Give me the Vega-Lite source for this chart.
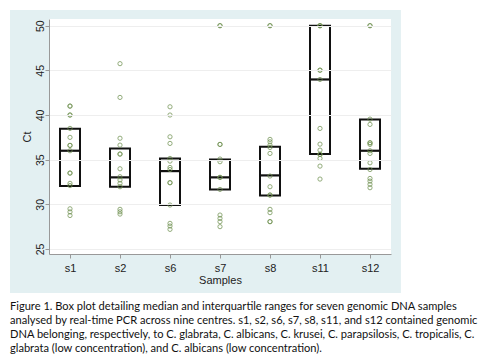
{
  "$schema": "https://vega.github.io/schema/vega-lite/v6.json",
  "width": 342,
  "height": 235,
  "autosize": "none",
  "padding": {"left": 49, "top": 19, "right": 97, "bottom": 107},
  "background": "white",
  "config": {
    "view": {"stroke": null},
    "font": "Liberation Sans"
  },
  "title": {
    "text": [
      "Figure 1. Box plot detailing median and interquartile ranges for seven genomic DNA samples",
      "analysed by real-time PCR across nine centres. s1, s2, s6, s7, s8, s11, and s12 contained genomic",
      "DNA belonging, respectively, to C. glabrata, C. albicans, C. krusei, C. parapsilosis, C. tropicalis, C.",
      "glabrata (low concentration), and C. albicans (low concentration)."
    ],
    "orient": "bottom",
    "anchor": "start",
    "frame": "group",
    "dx": -39,
    "offset": 8,
    "font": "Lato",
    "fontSize": 11.1,
    "fontWeight": "normal",
    "lineHeight": 14,
    "color": "#111"
  },
  "datasets": {
    "frame": [
      {"part": "panel", "x1": -0.114, "x2": 1.029, "y1": -0.166, "y2": 1.038},
      {"part": "plot", "x1": 0, "x2": 1, "y1": 0, "y2": 1}
    ],
    "points": [
      {"sample": "s1", "ct": 41.0}, {"sample": "s1", "ct": 41.0}, {"sample": "s1", "ct": 40.0}, {"sample": "s1", "ct": 40.0},
      {"sample": "s1", "ct": 38.5}, {"sample": "s1", "ct": 37.5}, {"sample": "s1", "ct": 36.6}, {"sample": "s1", "ct": 36.6},
      {"sample": "s1", "ct": 36.0}, {"sample": "s1", "ct": 33.5}, {"sample": "s1", "ct": 33.5}, {"sample": "s1", "ct": 32.35},
      {"sample": "s1", "ct": 32.1}, {"sample": "s1", "ct": 29.5}, {"sample": "s1", "ct": 29.15}, {"sample": "s1", "ct": 28.75},
      {"sample": "s2", "ct": 45.75}, {"sample": "s2", "ct": 41.97}, {"sample": "s2", "ct": 37.4}, {"sample": "s2", "ct": 36.63},
      {"sample": "s2", "ct": 35.63}, {"sample": "s2", "ct": 35.63}, {"sample": "s2", "ct": 33.98}, {"sample": "s2", "ct": 33.09},
      {"sample": "s2", "ct": 32.72}, {"sample": "s2", "ct": 32.35}, {"sample": "s2", "ct": 31.97}, {"sample": "s2", "ct": 29.44},
      {"sample": "s2", "ct": 29.17}, {"sample": "s2", "ct": 28.91},
      {"sample": "s6", "ct": 40.92}, {"sample": "s6", "ct": 40.0}, {"sample": "s6", "ct": 37.56}, {"sample": "s6", "ct": 36.82},
      {"sample": "s6", "ct": 35.14}, {"sample": "s6", "ct": 34.84}, {"sample": "s6", "ct": 34.13}, {"sample": "s6", "ct": 33.9},
      {"sample": "s6", "ct": 32.42}, {"sample": "s6", "ct": 32.42}, {"sample": "s6", "ct": 29.92}, {"sample": "s6", "ct": 27.87},
      {"sample": "s6", "ct": 27.57}, {"sample": "s6", "ct": 27.2},
      {"sample": "s7", "ct": 50.0}, {"sample": "s7", "ct": 50.0}, {"sample": "s7", "ct": 36.71}, {"sample": "s7", "ct": 36.71},
      {"sample": "s7", "ct": 35.07}, {"sample": "s7", "ct": 34.77}, {"sample": "s7", "ct": 33.02}, {"sample": "s7", "ct": 33.02},
      {"sample": "s7", "ct": 31.67}, {"sample": "s7", "ct": 28.8}, {"sample": "s7", "ct": 28.43}, {"sample": "s7", "ct": 28.06},
      {"sample": "s7", "ct": 27.5},
      {"sample": "s8", "ct": 50.0}, {"sample": "s8", "ct": 50.0}, {"sample": "s8", "ct": 37.27}, {"sample": "s8", "ct": 37.0},
      {"sample": "s8", "ct": 36.63}, {"sample": "s8", "ct": 36.37}, {"sample": "s8", "ct": 35.7}, {"sample": "s8", "ct": 33.17},
      {"sample": "s8", "ct": 31.97}, {"sample": "s8", "ct": 31.04}, {"sample": "s8", "ct": 31.04}, {"sample": "s8", "ct": 29.44},
      {"sample": "s8", "ct": 29.07}, {"sample": "s8", "ct": 28.06}, {"sample": "s8", "ct": 28.06},
      {"sample": "s11", "ct": 50.0}, {"sample": "s11", "ct": 50.0}, {"sample": "s11", "ct": 50.0}, {"sample": "s11", "ct": 45.02},
      {"sample": "s11", "ct": 45.02}, {"sample": "s11", "ct": 43.98}, {"sample": "s11", "ct": 38.5}, {"sample": "s11", "ct": 36.74},
      {"sample": "s11", "ct": 36.07}, {"sample": "s11", "ct": 35.59}, {"sample": "s11", "ct": 35.59}, {"sample": "s11", "ct": 35.14},
      {"sample": "s11", "ct": 34.28}, {"sample": "s11", "ct": 32.83},
      {"sample": "s12", "ct": 50.0}, {"sample": "s12", "ct": 50.0}, {"sample": "s12", "ct": 39.54}, {"sample": "s12", "ct": 38.95},
      {"sample": "s12", "ct": 36.89}, {"sample": "s12", "ct": 36.89}, {"sample": "s12", "ct": 36.71}, {"sample": "s12", "ct": 36.0},
      {"sample": "s12", "ct": 35.7}, {"sample": "s12", "ct": 34.65}, {"sample": "s12", "ct": 33.9}, {"sample": "s12", "ct": 32.9},
      {"sample": "s12", "ct": 32.6}, {"sample": "s12", "ct": 32.24}, {"sample": "s12", "ct": 31.86}
    ],
    "boxes": [
      {"sample": "s1", "q1": 32.05, "median": 36.0, "q3": 38.45},
      {"sample": "s2", "q1": 31.97, "median": 33.02, "q3": 36.26},
      {"sample": "s6", "q1": 29.92, "median": 33.72, "q3": 35.14},
      {"sample": "s7", "q1": 31.67, "median": 33.02, "q3": 35.03},
      {"sample": "s8", "q1": 31.0, "median": 33.24, "q3": 36.44},
      {"sample": "s11", "q1": 35.63, "median": 43.98, "q3": 50.0},
      {"sample": "s12", "q1": 33.98, "median": 36.0, "q3": 39.5}
    ]
  },
  "layer": [
    {
      "data": {"name": "frame"},
      "mark": {"type": "rect"},
      "encoding": {
        "x": {"field": "x1", "type": "quantitative", "scale": {"domain": [0, 1], "nice": false, "zero": false}, "axis": null},
        "x2": {"field": "x2"},
        "y": {"field": "y1", "type": "quantitative", "scale": {"domain": [0, 1], "nice": false, "zero": false}, "axis": null},
        "y2": {"field": "y2"},
        "color": {"field": "part", "type": "nominal", "scale": {"domain": ["panel", "plot"], "range": ["#e3f0f2", "#ffffff"]}, "legend": null}
      }
    },
    {
      "layer": [
        {
          "data": {"name": "boxes"},
          "mark": {"type": "bar", "width": 20, "fill": "white", "fillOpacity": 0, "stroke": "#111", "strokeWidth": 2},
          "encoding": {
            "x": {"field": "sample", "type": "nominal", "sort": ["s1", "s2", "s6", "s7", "s8", "s11", "s12"], "scale": {"type": "point", "padding": 0.42}},
            "y": {"field": "q1", "type": "quantitative", "scale": {"domain": [24.44, 50.75], "nice": false, "zero": false}},
            "y2": {"field": "q3"}
          }
        },
        {
          "data": {"name": "boxes"},
          "mark": {"type": "tick", "orient": "horizontal", "size": 21, "thickness": 2.2, "color": "#111", "opacity": 1},
          "encoding": {
            "x": {"field": "sample", "type": "nominal", "sort": ["s1", "s2", "s6", "s7", "s8", "s11", "s12"]},
            "y": {"field": "median", "type": "quantitative"}
          }
        },
        {
          "data": {"name": "points"},
          "mark": {"type": "point", "shape": "circle", "filled": false, "size": 18, "strokeWidth": 1, "color": "#6f9150", "opacity": 0.75},
          "encoding": {
            "x": {
              "field": "sample", "type": "nominal", "sort": ["s1", "s2", "s6", "s7", "s8", "s11", "s12"],
              "axis": {
                "title": "Samples", "labelAngle": 0, "labelAlign": "center", "labelBaseline": "top", "labelFontSize": 11, "titleFontSize": 11, "titleFontWeight": "normal",
                "labelColor": "#222", "titleColor": "#222", "domainColor": "#999", "tickColor": "#999", "tickSize": 4,
                "labelPadding": 4, "titlePadding": 1, "zindex": 1
              }
            },
            "y": {
              "field": "ct", "type": "quantitative",
              "axis": {
                "title": "Ct", "values": [25, 30, 35, 40, 45, 50], "labelAngle": -90, "labelFontSize": 10.5, "titleFontSize": 11,
                "titleFontWeight": "normal", "labelColor": "#222", "titleColor": "#222", "domainColor": "#999", "tickColor": "#999",
                "tickSize": 4, "labelPadding": 0, "titlePadding": 3, "grid": true, "gridColor": "#eeeeee", "gridWidth": 1, "zindex": 1
              }
            }
          }
        }
      ]
    }
  ],
  "resolve": {"scale": {"x": "independent", "y": "independent", "color": "independent"}}
}
